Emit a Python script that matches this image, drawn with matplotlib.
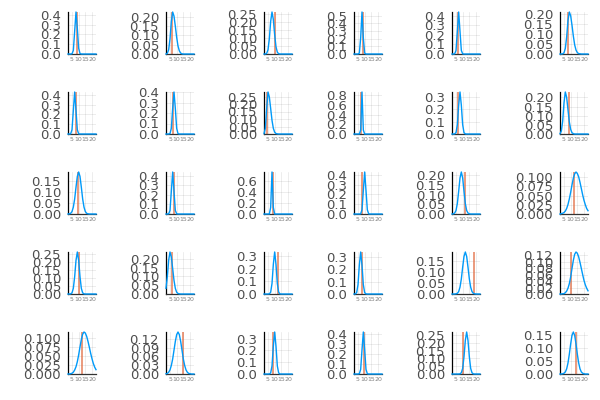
import matplotlib
matplotlib.use("Agg")
import matplotlib.pyplot as plt
from matplotlib.ticker import MultipleLocator, FormatStrFormatter

# eje x comun de las densidades
xs = list(range(2, 24))
xtick_vals = [5, 10, 15, 20]

# densidades (azul), una lista por panel, fila por fila
dens_row1 = [
    [0, 0, 0, 0.002, 0.036, 0.232, 0.43, 0.261, 0.058, 0.005, 0, 0, 0, 0, 0, 0, 0, 0, 0, 0, 0, 0],
    [0, 0.004, 0.023, 0.081, 0.174, 0.225, 0.203, 0.149, 0.089, 0.043, 0.017, 0.005, 0.001, 0, 0, 0, 0, 0, 0, 0, 0, 0],
    [0, 0, 0.004, 0.026, 0.094, 0.202, 0.26, 0.214, 0.119, 0.045, 0.011, 0.002, 0, 0, 0, 0, 0, 0, 0, 0, 0, 0],
    [0, 0, 0, 0, 0.012, 0.21, 0.55, 0.21, 0.012, 0, 0, 0, 0, 0, 0, 0, 0, 0, 0, 0, 0, 0],
    [0, 0, 0.002, 0.037, 0.237, 0.44, 0.237, 0.037, 0.002, 0, 0, 0, 0, 0, 0, 0, 0, 0, 0, 0, 0, 0],
    [0, 0, 0.001, 0.006, 0.028, 0.086, 0.168, 0.21, 0.191, 0.144, 0.090, 0.046, 0.020, 0.007, 0.002, 0.001, 0, 0, 0, 0, 0, 0],
]
dens_row2 = [
    [0, 0, 0.002, 0.043, 0.241, 0.43, 0.241, 0.043, 0.002, 0, 0, 0, 0, 0, 0, 0, 0, 0, 0, 0, 0, 0],
    [0, 0, 0, 0.004, 0.054, 0.243, 0.40, 0.243, 0.054, 0.004, 0, 0, 0, 0, 0, 0, 0, 0, 0, 0, 0, 0],
    [0.003, 0.038, 0.17, 0.28, 0.247, 0.17, 0.091, 0.038, 0.012, 0.003, 0.001, 0, 0, 0, 0, 0, 0, 0, 0, 0, 0, 0],
    [0, 0, 0, 0, 0, 0.082, 0.87, 0.082, 0, 0, 0, 0, 0, 0, 0, 0, 0, 0, 0, 0, 0, 0],
    [0, 0, 0.001, 0.011, 0.075, 0.233, 0.34, 0.233, 0.075, 0.011, 0.001, 0, 0, 0, 0, 0, 0, 0, 0, 0, 0, 0],
    [0.002, 0.016, 0.070, 0.171, 0.23, 0.200, 0.132, 0.066, 0.025, 0.007, 0.002, 0, 0, 0, 0, 0, 0, 0, 0, 0, 0, 0],
]
dens_row3 = [
    [0, 0.001, 0.003, 0.011, 0.031, 0.068, 0.121, 0.170, 0.19, 0.170, 0.121, 0.068, 0.031, 0.011, 0.003, 0.001, 0, 0, 0, 0, 0, 0],
    [0, 0, 0.002, 0.037, 0.237, 0.44, 0.237, 0.037, 0.002, 0, 0, 0, 0, 0, 0, 0, 0, 0, 0, 0, 0, 0],
    [0, 0, 0, 0, 0, 0.120, 0.765, 0.120, 0, 0, 0, 0, 0, 0, 0, 0, 0, 0, 0, 0, 0, 0],
    [0, 0, 0, 0, 0, 0.002, 0.043, 0.241, 0.43, 0.241, 0.043, 0.002, 0, 0, 0, 0, 0, 0, 0, 0, 0, 0],
    [0, 0.001, 0.005, 0.018, 0.054, 0.117, 0.186, 0.217, 0.186, 0.117, 0.054, 0.018, 0.005, 0.001, 0, 0, 0, 0, 0, 0, 0, 0],
    [0, 0.001, 0.002, 0.004, 0.008, 0.015, 0.026, 0.041, 0.059, 0.079, 0.097, 0.109, 0.114, 0.110, 0.101, 0.086, 0.069, 0.052, 0.037, 0.025, 0.015, 0.009],
]
dens_row4 = [
    [0, 0, 0.001, 0.007, 0.035, 0.107, 0.208, 0.26, 0.208, 0.107, 0.035, 0.007, 0.001, 0, 0, 0, 0, 0, 0, 0, 0, 0],
    [0.032, 0.098, 0.191, 0.238, 0.210, 0.144, 0.077, 0.032, 0.010, 0.003, 0.001, 0, 0, 0, 0, 0, 0, 0, 0, 0, 0, 0],
    [0, 0, 0, 0, 0.001, 0.014, 0.082, 0.233, 0.33, 0.233, 0.082, 0.014, 0.001, 0, 0, 0, 0, 0, 0, 0, 0, 0],
    [0, 0.001, 0.011, 0.075, 0.233, 0.34, 0.233, 0.075, 0.011, 0.001, 0, 0, 0, 0, 0, 0, 0, 0, 0, 0, 0, 0],
    [0, 0, 0, 0.001, 0.003, 0.011, 0.031, 0.068, 0.121, 0.170, 0.19, 0.170, 0.121, 0.068, 0.031, 0.011, 0.003, 0.001, 0, 0, 0, 0],
    [0, 0, 0.001, 0.001, 0.004, 0.009, 0.018, 0.032, 0.053, 0.079, 0.104, 0.123, 0.13, 0.126, 0.115, 0.098, 0.079, 0.060, 0.042, 0.028, 0.018, 0.010],
]
dens_row5 = [
    [0, 0, 0.001, 0.002, 0.005, 0.011, 0.020, 0.034, 0.053, 0.075, 0.095, 0.110, 0.116, 0.113, 0.104, 0.090, 0.074, 0.057, 0.042, 0.029, 0.019, 0.012],
    [0.001, 0.002, 0.006, 0.014, 0.029, 0.051, 0.081, 0.111, 0.134, 0.143, 0.134, 0.111, 0.081, 0.051, 0.029, 0.014, 0.006, 0.002, 0.001, 0, 0, 0],
    [0, 0, 0, 0, 0, 0.009, 0.068, 0.236, 0.357, 0.236, 0.068, 0.009, 0, 0, 0, 0, 0, 0, 0, 0, 0, 0],
    [0, 0, 0, 0, 0.003, 0.046, 0.242, 0.42, 0.242, 0.046, 0.003, 0, 0, 0, 0, 0, 0, 0, 0, 0, 0, 0],
    [0, 0, 0, 0, 0, 0, 0.001, 0.008, 0.036, 0.111, 0.216, 0.27, 0.216, 0.111, 0.036, 0.008, 0.001, 0, 0, 0, 0, 0],
    [0, 0, 0.001, 0.003, 0.008, 0.020, 0.043, 0.077, 0.117, 0.150, 0.163, 0.150, 0.117, 0.077, 0.043, 0.020, 0.008, 0.003, 0.001, 0, 0, 0],
]

# valor observado (linea naranja) por panel
obs_row1 = [8.5, 6.5, 10.0, 8.75, 6.5, 7.75]
obs_row2 = [8.2, 7.2, 4.0, 7.0, 6.7, 8.7]
obs_row3 = [9.2, 7.75, 8.5, 8.25, 11.75, 12.25]
obs_row4 = [10.0, 6.75, 12.5, 8.25, 18.75, 10.25]
obs_row5 = [12.5, 14.5, 9.0, 9.2, 10.5, 14.25]

# paso de los ticks del eje y por panel
ystep_row1 = [0.1, 0.05, 0.05, 0.1, 0.1, 0.05]
ystep_row2 = [0.1, 0.1, 0.05, 0.2, 0.1, 0.05]
ystep_row3 = [0.05, 0.1, 0.2, 0.1, 0.05, 0.025]
ystep_row4 = [0.05, 0.05, 0.1, 0.1, 0.05, 0.02]
ystep_row5 = [0.025, 0.03, 0.1, 0.1, 0.05, 0.05]

dens = [dens_row1, dens_row2, dens_row3, dens_row4, dens_row5]
obs = [obs_row1, obs_row2, obs_row3, obs_row4, obs_row5]
ysteps = [ystep_row1, ystep_row2, ystep_row3, ystep_row4, ystep_row5]

#posicion de los paneles en pixeles
col_left = [68, 166, 264, 354, 452, 560]
row_top = [12, 92, 172, 252, 332]
pw, ph = 28, 42

fig = plt.figure(figsize=(6, 4), dpi=100)
fig.patch.set_facecolor("white")

for r in range(5):
    for c in range(6):
        ax = fig.add_axes([col_left[c] / 600, 1 - (row_top[r] + ph) / 400, pw / 600, ph / 400])
        y = dens[r][c]
        ax.plot(xs, y, color="#009af9", lw=1.0, clip_on=False, zorder=3)
        ax.axvline(obs[r][c], color="#e26f46", lw=1.4, alpha=0.7, zorder=2)
        ax.set_xlim(xs[0], xs[-1])
        ax.set_ylim(0, max(y))

        step = ysteps[r][c]
        if step in (0.1, 0.2):
            dec = 1
        elif step == 0.025:
            dec = 3
        else:
            dec = 2
        ax.yaxis.set_major_locator(MultipleLocator(step))
        ax.yaxis.set_major_formatter(FormatStrFormatter("%." + str(dec) + "f"))
        ax.set_xticks(xtick_vals)
        ax.set_xticklabels([str(v) for v in xtick_vals])

        ax.tick_params(axis="y", length=0, pad=5, labelsize=9.5, labelcolor="#4d4d4d")
        ax.tick_params(axis="x", length=0, pad=2, labelsize=4.5, labelcolor="#808080")
        ax.grid(True, color="black", alpha=0.1, lw=0.5)
        ax.set_axisbelow(True)
        for s in ["top", "right"]:
            ax.spines[s].set_visible(False)
        ax.spines["left"].set_linewidth(0.9)
        ax.spines["bottom"].set_linewidth(0.9)
        ax.spines["left"].set_color("black")
        ax.spines["bottom"].set_color("#333333")
        ax.set_facecolor("white")

fig.savefig("out.png", dpi=100)
